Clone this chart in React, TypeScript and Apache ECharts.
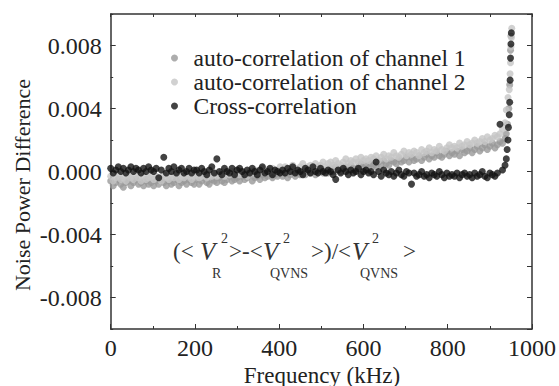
import React, { useEffect, useRef } from "react";
import * as echarts from "echarts";

// Frequency grid of the main band (kHz): start and step of the analyser sweep
const GRID_START = 0;
const GRID_STEP = 6;

// Values in units of 1e-4 (noise power difference), one per grid frequency
const ch1 = [
  -6, -9, -7, -5, -8, -10, -7, -6, -9, -7, -5, -8, -7, -9, -6, -8, -7,
  -9, -6, -8, -5, -7, -9, -6, -8, -7, -5, -9, -7, -6, -8, -5, -7, -8,
  -5, -8, -6, -4, -7, -8, -5, -6, -7, -4, -6, -7, -5, -3, -6, -5, -4,
  -6, -3, -5, -4, -2, -6, -4, -3, -5, -2, -4, -3, -1, -4, -2, -3, -1,
  -3, -1, -4, -2, 0, -3, -1, -2, 1, -2, 0, -1, 1, -2, 0, 1, -1,
  1, -1, 2, 0, 3, 1, 0, 2, 3, 1, 4, 2, 1, 3, 5, 2, 4,
  2, 5, 4, 3, 6, 4, 7, 5, 4, 7, 6, 5, 8, 6, 7, 9, 6,
  9, 7, 8, 10, 7, 9, 11, 8, 10, 9, 12, 10, 9, 11, 13, 10, 12,
  11, 13, 10, 14, 12, 13, 15, 12, 14, 16, 13, 15, 17, 14, 16, 18, 15, 17, 19, 18, 21,
];
const ch2 = [
  -3, -6, -4, -2, -5, -4, -6, -3, -4, -5, -2, -4, -6, -3, -5, -4, -3,
  -5, -3, -4, -6, -2, -4, -5, -3, -4, -2, -5, -3, -4, -2, -3, -5, -3,
  -2, -4, -3, -1, -4, -2, -3, -1, -3, -2, 0, -3, -1, -2, 0, -2, -1,
  -2, 0, -1, -3, 0, -1, 1, -1, 0, 2, -1, 1, 0, 2, 0, 1, 3,
  1, 3, 0, 2, 4, 2, 1, 3, 5, 2, 3, 4, 2, 5, 3, 4, 6,
  3, 5, 6, 4, 7, 5, 4, 6, 8, 5, 7, 6, 8, 6, 9, 7, 8,
  7, 9, 8, 10, 7, 9, 11, 8, 10, 9, 12, 10, 9, 11, 13, 10, 12,
  11, 13, 12, 10, 14, 12, 13, 15, 12, 14, 13, 16, 14, 13, 15, 17, 15,
  16, 15, 18, 16, 17, 19, 17, 18, 20, 18, 19, 21, 19, 22, 20, 21, 23, 22, 24, 27, 31,
];
const cross = [
  2, -1, 1, 3, 0, 2, -1, 1, 3, 0, 2, 1, -1, 2, 0, 3, 1,
  0, 2, -4, 1, 9, -1, 2, 0, 3, -1, 1, 2, -1, 0, 2, -1, 1,
  1, -1, 2, 0, -2, 1, 3, -1, 8, 0, -2, 2, 0, -1, 2, -2, 1,
  2, 0, -2, 1, -1, 2, 0, -2, 1, 3, -1, 0, 2, -2, 1, 0, -1,
  1, -1, 2, 0, 3, -1, 1, 0, -2, 2, 1, -1, 3, 0, -1, 2, 0,
  -1, 1, 0, -2, -5, 1, -1, 2, 0, -2, 1, -1, 0, 2, -2, 0, 1,
  -1, 0, -2, 6, 0, -3, 1, -1, -2, 0, -3, -1, 1, -2, -3, 0, -1,
  -8, -1, -3, -2, 0, -3, -2, -4, -1, -2, -3, 0, -2, -4, -1, -3, -2,
  -3, -1, -4, -2, -1, -3, -2, -4, -1, -3, -2, 0, -3, -4, -1, -2, -3, -1, 30, 1, 4,
];

// Steep rise near the band edge (kHz, 1e-4)
const ch1TailFreq = [939, 942, 945, 947, 949, 950];
const ch1TailVal = [24, 30, 40, 55, 77, 86];
const ch2TailFreq = [939, 943, 946, 948, 949, 950, 951, 952];
const ch2TailVal = [39, 47, 52, 62, 69, 79, 85, 91];
const crossTailFreq = [939, 941, 943, 944, 946, 947, 948, 949, 950, 951];
const crossTailVal = [8, 14, 20, 28, 36, 44, 58, 72, 81, 88];

const UNIT = 1e-4;

const seriesNames = [
  "auto-correlation of channel 1",
  "auto-correlation of channel 2",
  "Cross-correlation",
];
const yLabelValues = [-0.008, -0.004, 0, 0.004, 0.008];

function build(vals: number[], tf: number[], tv: number[]) {
  const pts: number[][] = vals.map((v, i) => [GRID_START + i * GRID_STEP, v * UNIT]);
  tf.forEach((f, i) => pts.push([f, tv[i] * UNIT]));
  return pts;
}

const FONT = "Liberation Serif";
const TXT = "#222";

export default function App() {
  const ref = useRef<HTMLDivElement>(null);
  useEffect(() => {
    if (!ref.current) return;
    const chart = echarts.init(ref.current, undefined, { renderer: "svg" });
    const main = 23;
    const vSize = 25;
    const small = 14;
    const yMid = 251;
    const sup = 238;
    const sub = 273;
    const t = (text: string, x: number, y: number, size: number, italic = false) => ({
      type: "text",
      x,
      y,
      style: {
        text,
        fill: "#333",
        fontFamily: FONT,
        fontSize: size,
        fontStyle: italic ? "italic" : "normal",
        align: "left",
        verticalAlign: "middle",
      },
    });
    chart.setOption({
      animation: false,
      backgroundColor: "#fff",
      grid: { left: 110.7, right: 25, top: 14, bottom: 57 },
      legend: {
        orient: "vertical",
        left: 166,
        top: 41,
        itemWidth: 28,
        itemHeight: 7,
        itemGap: 0,
        icon: "circle",
        data: seriesNames,
        textStyle: { fontFamily: FONT, fontSize: 23.5, color: TXT },
      },
      xAxis: [
        {
          type: "value",
          position: "bottom",
          min: 0,
          max: 1000,
          interval: 200,
          axisLine: { show: true, onZero: false, lineStyle: { color: "#333", width: 1.5 } },
          axisTick: { show: true, inside: true, length: 5, lineStyle: { color: "#333" } },
          minorTick: { show: true, splitNumber: 2, length: 3, lineStyle: { color: "#333" } },
          splitLine: { show: false },
          axisLabel: {
            fontFamily: FONT,
            fontSize: 24,
            color: TXT,
            margin: 7,
            formatter: (v: number) => String(v),
          },
        },
        {
          type: "value",
          position: "top",
          min: 0,
          max: 1000,
          interval: 100,
          axisLine: { show: true, onZero: false, lineStyle: { color: "#333", width: 1.5 } },
          axisTick: { show: true, inside: true, length: 3, lineStyle: { color: "#333" } },
          splitLine: { show: false },
          axisLabel: { show: false },
        },
      ],
      yAxis: [
        {
          type: "value",
          position: "left",
          min: -0.01,
          max: 0.01,
          axisLine: { show: true, onZero: false, lineStyle: { color: "#333", width: 1.5 } },
          axisTick: { show: true, inside: true, length: 5, customValues: yLabelValues, lineStyle: { color: "#333" } },
          splitLine: { show: false },
          axisLabel: {
            customValues: yLabelValues,
            fontFamily: FONT,
            fontSize: 24,
            color: TXT,
            margin: 9,
            formatter: (v: number) => v.toFixed(3),
          },
        },
        {
          type: "value",
          position: "left",
          min: -0.01,
          max: 0.01,
          interval: 0.002,
          axisLine: { show: false },
          axisTick: { show: true, inside: true, length: 2.5, lineStyle: { color: "#333" } },
          splitLine: { show: false },
          axisLabel: { show: false },
        },
        {
          type: "value",
          position: "right",
          min: -0.01,
          max: 0.01,
          interval: 0.002,
          axisLine: { show: true, onZero: false, lineStyle: { color: "#333", width: 1.5 } },
          axisTick: { show: true, inside: true, length: 5, lineStyle: { color: "#333" } },
          splitLine: { show: false },
          axisLabel: { show: false },
        },
      ],
      series: [
        {
          name: seriesNames[0],
          type: "scatter",
          symbolSize: 7,
          itemStyle: { color: "#999999" },
          data: build(ch1, ch1TailFreq, ch1TailVal),
          z: 2,
        },
        {
          name: seriesNames[1],
          type: "scatter",
          symbolSize: 7,
          itemStyle: { color: "#c6c6c6" },
          data: build(ch2, ch2TailFreq, ch2TailVal),
          z: 3,
        },
        {
          name: seriesNames[2],
          type: "scatter",
          symbolSize: 7,
          itemStyle: { color: "#141414" },
          data: build(cross, crossTailFreq, crossTailVal),
          z: 4,
        },
      ],
      graphic: [
        {
          type: "text",
          x: 322,
          y: 375,
          style: {
            text: "Frequency (kHz)",
            fill: TXT,
            fontFamily: FONT,
            fontSize: 23,
            align: "center",
            verticalAlign: "middle",
          },
        },
        {
          type: "text",
          x: 22,
          y: 185,
          rotation: Math.PI / 2,
          style: {
            text: "Noise Power Difference",
            fill: TXT,
            fontFamily: FONT,
            fontSize: 22,
            align: "center",
            verticalAlign: "middle",
          },
        },
        t("(<", 173, yMid, main),
        t("V", 200, yMid, vSize, true),
        t("2", 221, sup, small),
        t("R", 212, sub, small),
        t(">-<", 229, yMid, main),
        t("V", 263, yMid, vSize, true),
        t("2", 283, sup, small),
        t("QVNS", 270, sub, small),
        t(">)/<", 311, yMid, main),
        t("V", 352, yMid, vSize, true),
        t("2", 372, sup, small),
        t("QVNS", 360, sub, small),
        t(">", 403, yMid, main),
      ],
    });
    return () => chart.dispose();
  }, []);
  return <div ref={ref} style={{ width: 559, height: 386, position: "absolute", left: 0, top: 0 }} />;
}
